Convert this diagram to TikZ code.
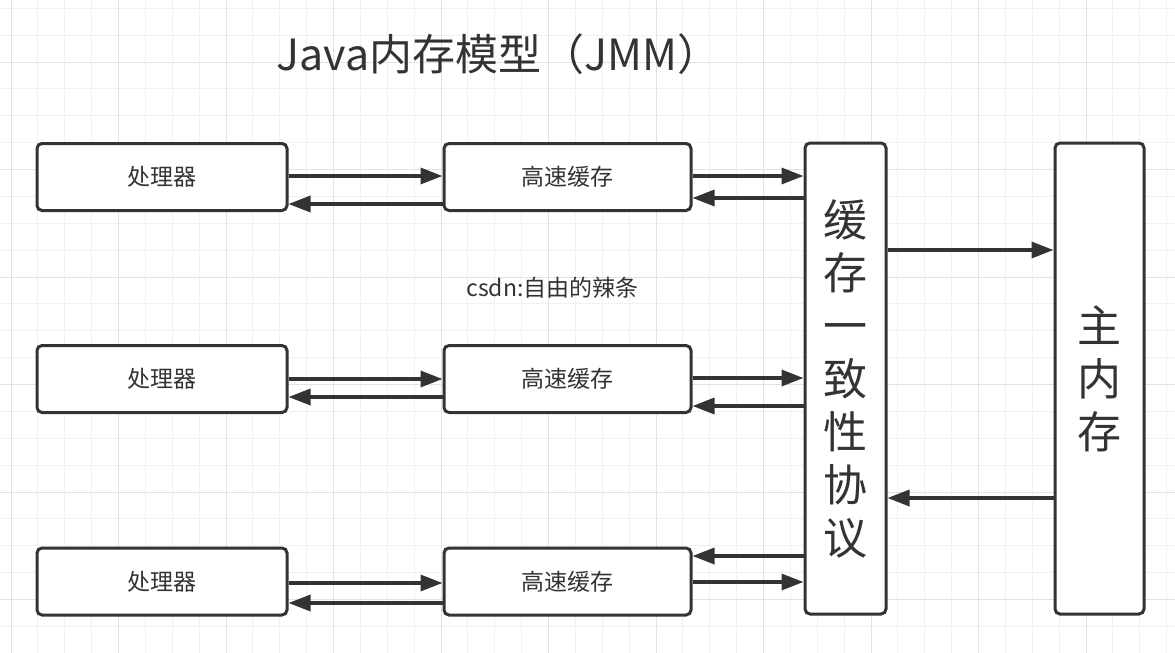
\documentclass[tikz,border=0pt]{standalone}
\usepackage{fontspec}
\setmainfont{Noto Sans CJK SC}
\usetikzlibrary{arrows.meta}
\definecolor{ink}{HTML}{333333}
\definecolor{gridminor}{HTML}{F1F1F1}
\definecolor{gridmajor}{HTML}{E2E2E2}
\tikzset{
         box/.style={draw=ink,line width=3pt,rounded corners=5pt,fill=white,text=ink,inner sep=0pt,
                     font=\fontsize{23}{28}\selectfont},
         bigtxt/.style={font=\fontsize{44}{53}\selectfont,align=center},
         arr/.style={draw=ink,line width=3.4pt,-{Triangle[length=22pt,width=16pt]}}
        }

\begin{document}
\begin{tikzpicture}[x=1pt,y=-1pt]
\useasboundingbox[fill=white](0,0)rectangle(1175,653);
%background grid
\foreach \i in {0,...,43} \draw[gridminor,line width=1pt]({11+26.875*\i},0)--++(0,653);
\foreach \i in {0,...,24} \draw[gridminor,line width=1pt](0,{8.25+26.875*\i})--++(1175,0);
\foreach \i in {0,...,10} \draw[gridmajor,line width=1pt]({11+107.5*\i},0)--++(0,653);
\foreach \i in {0,...,5} \draw[gridmajor,line width=1pt](0,{62+107.5*\i})--++(1175,0);
%boxes
\node[box,minimum width=250,minimum height=67](p1)at(162,177){处理器}; %processor 1
\node[box,minimum width=250,minimum height=67](p2)at(162,379){处理器}; %processor 2
\node[box,minimum width=250,minimum height=67](p3)at(162,581.5){处理器}; %processor 3
\node[box,minimum width=247,minimum height=67](c1)at(567.5,177){高速缓存}; %cache 1
\node[box,minimum width=247,minimum height=67](c2)at(567.5,379){高速缓存}; %cache 2
\node[box,minimum width=247,minimum height=67](c3)at(567.5,581.5){高速缓存}; %cache 3
\node[box,bigtxt,minimum width=81,minimum height=471](coh)at(845.5,378.5){缓\\存\\一\\致\\性\\协\\议}; %coherence
\node[box,bigtxt,minimum width=89,minimum height=471](mem)at(1099.5,378.5){主\\内\\存}; %main memory
%labels
\node[text=ink,font=\fontsize{43}{50}\selectfont,anchor=base west](title)at(273,70){Java内存模型（JMM）};
\node[text=ink,font=\fontsize{23}{28}\selectfont](sign)at(552.5,288){csdn:自由的辣条};
%arrows
\draw[arr](p1.east|-0,176)--(c1.west|-0,176);
\draw[arr](c1.west|-0,204)--(p1.east|-0,204);
\draw[arr](c1.east|-0,176)--(coh.west|-0,176);
\draw[arr](coh.west|-0,198)--(c1.east|-0,198);
\draw[arr](p2.east|-0,379)--(c2.west|-0,379);
\draw[arr](c2.west|-0,397)--(p2.east|-0,397);
\draw[arr](c2.east|-0,378)--(coh.west|-0,378);
\draw[arr](coh.west|-0,406)--(c2.east|-0,406);
\draw[arr](p3.east|-0,583)--(c3.west|-0,583);
\draw[arr](c3.west|-0,603)--(p3.east|-0,603);
\draw[arr](coh.west|-0,556)--(c3.east|-0,556);
\draw[arr](c3.east|-0,582)--(coh.west|-0,582);
\draw[arr](coh.east|-0,250)--(mem.west|-0,250);
\draw[arr](mem.west|-0,498)--(coh.east|-0,498);
\end{tikzpicture}
\end{document}
